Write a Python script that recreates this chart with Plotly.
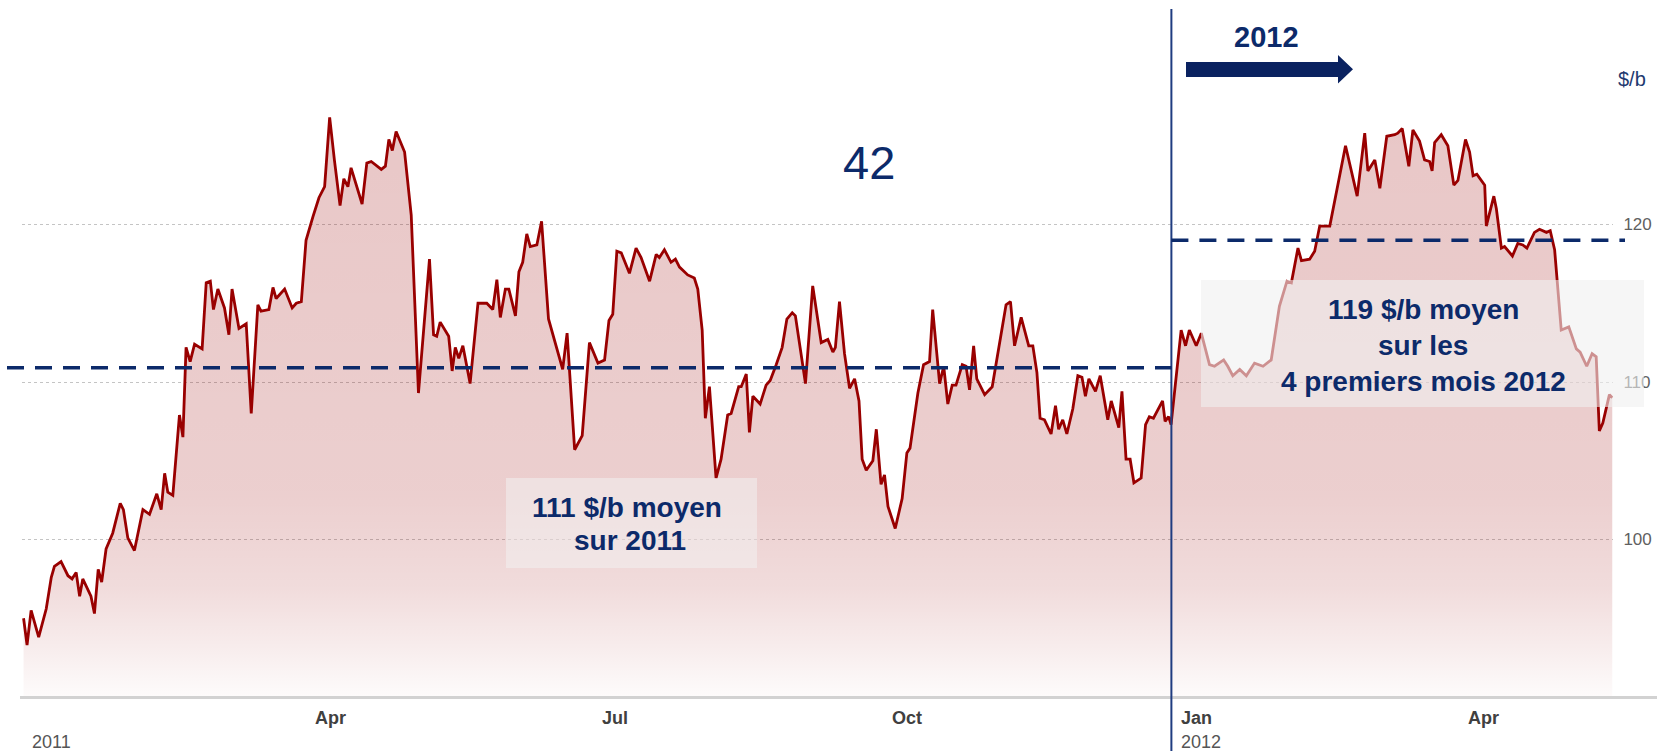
import pandas as pd
import plotly.graph_objects as go

# ---------------- data ----------------
# days elapsed since 2011-01-01 and Brent price ($/b)
days_since_2011 = [
    0.5, 1.6, 2.9, 5.3, 7.7, 9.3, 10.3, 12.4, 14.6, 15.9, 17.2, 18.3, 19.3, 20.6, 21.9, 23.0,
    24.2, 25.3, 26.7, 28.8, 31.2, 32.2, 33.6, 35.7, 38.4, 40.5, 42.8, 44.2, 45.3, 46.3, 47.9,
    50.0, 51.1, 52.1, 53.4, 54.8, 57.2, 58.5, 59.8, 60.8, 62.2, 64.3, 65.7, 66.7, 68.9, 71.2,
    72.8, 74.9, 75.9, 78.4, 79.7, 80.7, 83.4, 85.8, 87.1, 88.7, 90.2, 92.4, 94.3, 96.1, 97.7,
    99.2, 101.0, 102.2, 103.5, 104.5, 108.0, 109.5, 110.9, 114.1, 115.4, 116.5, 117.6, 118.8,
    121.5, 123.6, 125.9, 129.4, 130.7, 131.7, 132.8, 135.5, 136.6, 137.6, 138.7, 140.0, 142.3,
    144.8, 147.6, 149.5, 150.8, 151.9, 153.5, 154.6, 156.7, 157.8, 159.0, 160.3, 161.4, 163.5,
    165.0, 167.2, 171.7, 173.1, 175.5, 177.9, 180.2, 182.9, 185.0, 186.4, 187.6, 188.9, 190.3,
    192.9, 195.0, 196.6, 199.3, 201.4, 202.4, 204.0, 206.1, 207.5, 208.8, 211.4, 213.5, 214.6,
    216.0, 217.0, 218.3, 220.4, 222.0, 224.1, 225.2, 227.6, 228.4, 230.0, 231.0, 232.1, 234.4,
    236.3, 237.6, 239.5, 241.4, 242.9, 244.6, 245.6, 248.8, 251.1, 253.8, 255.9, 257.5, 258.3,
    259.6, 261.2, 262.8, 264.4, 265.8, 266.8, 268.1, 270.2, 271.3, 272.8, 273.9, 275.0, 277.3,
    279.5, 281.0, 282.0, 284.5, 286.3, 288.2, 289.2, 291.4, 292.7, 294.0, 295.4, 296.6, 298.6,
    299.8, 300.9, 302.2, 303.2, 305.7, 308.1, 310.2, 312.5, 313.9, 315.2, 317.3, 319.7, 321.0,
    322.3, 323.3, 324.7, 326.8, 328.2, 329.2, 330.5, 331.8, 333.7, 335.3, 336.6, 337.7, 338.8,
    340.9, 342.4, 344.8, 345.9, 348.3, 349.3, 350.6, 351.9, 353.1, 355.4, 356.8, 358.0, 359.3,
    362.2, 363.0, 364.1, 364.9, 368.1, 369.5, 370.7, 372.9, 374.5, 377.1, 378.7, 381.6, 382.9,
    384.5, 386.7, 388.8, 391.4, 394.1, 396.7, 399.3, 401.7, 403.1, 405.2, 406.3, 408.9, 410.5,
    412.1, 415.3, 417.6, 420.3, 424.0, 426.4, 427.4, 429.6, 431.2, 433.4, 435.9, 436.9, 438.3,
    440.4, 441.7, 443.8, 445.4, 447.0, 447.8, 448.6, 450.7, 452.8, 454.7, 456.0, 458.4, 459.7,
    460.8, 462.0, 464.5, 465.0, 467.4, 468.2, 469.8, 470.8, 473.3, 475.0, 476.6, 477.9, 480.3,
    481.9, 484.1, 485.3, 486.7, 488.8, 491.2, 493.6, 494.8, 496.9, 498.6, 499.9, 500.9, 502.0,
    504.1, 505.0,
]
brent_price = [
    95.0, 93.3, 95.5, 93.8, 95.6, 97.6, 98.3, 98.6, 97.7, 97.5, 97.9, 96.4, 97.5, 97.0, 96.4, 95.3,
    98.1, 97.3, 99.4, 100.4, 102.3, 101.9, 100.1, 99.3, 101.9, 101.6, 102.9, 101.9, 104.2, 103.0, 102.8,
    107.9, 106.5, 112.2, 111.3, 112.4, 112.1, 116.3, 116.4, 114.6, 115.9, 114.7, 113.0, 115.9, 113.4, 113.7,
    108.0, 114.9, 114.5, 114.6, 116.0, 115.3, 115.9, 114.7, 115.0, 115.1, 119.0, 120.5, 121.7, 122.4, 126.8,
    124.1, 121.2, 122.9, 122.4, 123.6, 121.3, 123.9, 124.0, 123.5, 123.7, 125.4, 124.7, 125.9,
    124.6, 120.6, 109.3, 117.8, 113.0, 112.9, 113.8, 112.9, 110.7, 112.2, 111.5, 112.3, 109.9,
    115.0, 115.0, 114.6, 116.5, 114.1, 115.9, 115.9, 114.2, 117.0, 117.6, 119.4, 118.6, 118.7,
    120.2, 114.0, 110.8, 113.1, 105.7, 106.6, 112.5, 111.2, 111.4, 113.9, 114.3, 118.3, 118.2,
    116.9, 118.5, 117.9, 116.4, 118.1, 117.9, 118.4, 117.6, 117.8, 117.3, 116.8, 116.6, 115.9,
    113.3, 107.7, 109.7, 103.9, 105.1, 107.9, 108.0, 109.7, 109.7, 110.5, 106.8, 109.1, 108.6,
    109.8, 110.1, 111.1, 112.2, 114.0, 114.4, 114.2, 109.9, 116.1, 112.5, 112.7, 111.9, 112.2,
    115.1, 111.8, 109.6, 110.2, 108.8, 105.1, 104.4, 105.0, 107.0, 103.5, 104.1, 102.1, 100.7,
    102.6, 105.5, 105.8, 109.3, 111.1, 111.3, 114.6, 109.9, 111.0, 108.6, 109.8, 109.8, 111.1,
    111.0, 109.5, 112.3, 110.2, 109.2, 109.7, 112.3, 114.9, 115.1, 112.3, 114.1, 112.3, 112.3,
    110.6, 107.7, 107.6, 106.7, 108.5, 107.0, 107.6, 106.7, 108.3, 110.4, 110.3, 109.1, 110.2,
    109.4, 110.4, 107.6, 108.8, 107.1, 109.4, 105.1, 105.1, 103.6, 103.9, 107.3, 107.8, 107.7,
    108.8, 107.5, 107.8, 107.3, 113.3, 112.3, 113.3, 112.3, 113.1, 111.1, 111.0, 111.4, 111.0,
    110.4, 110.8, 110.4, 111.2, 111.0, 111.4, 114.8, 116.4, 116.3, 118.5, 117.7, 117.8, 118.3,
    119.9, 119.9, 122.3, 125.0, 121.8, 125.8, 123.4, 124.1, 122.3, 125.6, 125.7, 125.8, 126.1,
    123.7, 126.0, 125.3, 124.1, 124.0, 123.4, 125.2, 125.7, 125.0, 122.5, 122.8, 125.4, 124.6,
    123.1, 123.2, 122.5, 119.9, 121.8, 121.0, 118.5, 118.6, 118.0, 118.8, 118.7, 118.5, 119.5,
    119.7, 119.5, 119.6, 118.4, 113.3, 113.5, 112.1, 111.9, 111.0, 111.8, 111.6, 106.9, 107.4,
    109.2, 109.0,
]
avg_2011 = 110.9
avg_2012_jan_apr = 119.0
y_tick_values = [100, 110, 120]
month_ticks = ["2011-04-01", "2011-07-01", "2011-10-01", "2012-01-01", "2012-04-01"]
month_labels = ["Apr", "Jul", "Oct", "Jan", "Apr"]
year_ticks = ["2011-01-01", "2012-01-01"]
year_labels = ["2011", "2012"]
year_split = "2012-01-01"

base = pd.Timestamp("2011-01-01")
dates = base + pd.to_timedelta(days_since_2011, unit="D")

# ---------------- layout geometry ----------------
W, H = 1657, 751
L, R, T, B = 22, 44, 0, 54
PW, PH = W - L - R, H - T - B


def px(xp):
    return (xp - L) / PW


def py(yp):
    return (H - B - yp) / PH


NAVY = "#0c2a6a"
FONT = "Arial, 'Liberation Sans', sans-serif"

fig = go.Figure()
fig.add_trace(go.Scatter(
    x=dates, y=brent_price, mode="lines",
    line=dict(color="#990000", width=2.8),
    fill="tozeroy",
    fillgradient=dict(
        type="vertical", start=90, stop=127,
        colorscale=[[0, "rgba(153,0,0,0.015)"], [0.08, "rgba(153,0,0,0.07)"],
                    [0.19, "rgba(153,0,0,0.14)"], [0.35, "rgba(153,0,0,0.19)"],
                    [1, "rgba(153,0,0,0.22)"]],
    ),
    hoverinfo="skip", showlegend=False,
))

shapes = []
# x axis baseline
shapes.append(dict(type="line", xref="paper", yref="paper", x0=px(20), x1=px(1657),
                   y0=py(697.5), y1=py(697.5), line=dict(color="#d2d2d2", width=3)))
# year split line
shapes.append(dict(type="line", xref="x", yref="paper", x0=year_split, x1=year_split,
                   y0=py(9), y1=py(751), line=dict(color="#1f3c80", width=2)))
# averages
shapes.append(dict(type="line", xref="paper", yref="y", x0=px(7), x1=px(1171.4),
                   y0=avg_2011, y1=avg_2011, line=dict(color=NAVY, width=3.5, dash="17px,11px")))
shapes.append(dict(type="line", xref="paper", yref="y", x0=px(1171.4), x1=px(1625),
                   y0=avg_2012_jan_apr, y1=avg_2012_jan_apr,
                   line=dict(color=NAVY, width=3.5, dash="17px,11px")))
# text boxes
shapes.append(dict(type="rect", xref="paper", yref="paper", x0=px(506), x1=px(757),
                   y0=py(568), y1=py(478), line=dict(width=0),
                   fillcolor="rgba(242,240,240,0.55)"))
shapes.append(dict(type="rect", xref="paper", yref="paper", x0=px(1201), x1=px(1644),
                   y0=py(407), y1=py(280), line=dict(width=0),
                   fillcolor="rgba(240,240,240,0.6)"))
# arrow
pts = [(1186, 62), (1338, 62), (1338, 55), (1353, 69.3), (1338, 83.5), (1338, 77), (1186, 77)]
path = "M " + " L ".join(f"{px(a):.5f},{py(b):.5f}" for a, b in pts) + " Z"
shapes.append(dict(type="path", xref="paper", yref="paper", path=path,
                   fillcolor="#0a2260", line=dict(width=0)))

ann = []


def text(x, y, s, size, color=NAVY, bold=False, xanchor="center", xref="paper", xshift=0):
    ann.append(dict(x=x, y=py(y), xref=xref, yref="paper", text=f"<b>{s}</b>" if bold else s,
                    showarrow=False, xanchor=xanchor, yanchor="middle", xshift=xshift,
                    font=dict(family=FONT, size=size, color=color)))


text(px(868.5), 162, "42", 47)
text(px(1266), 37, "2012", 29, bold=True)
text(px(1631.5), 79, "$/b", 20, color="#1f3a70")
text(px(627), 507, "111 $/b moyen", 28, bold=True)
text(px(630), 540, "sur 2011", 28, bold=True)
text(px(1423), 309, "119 $/b moyen", 28, bold=True)
text(px(1423), 345, "sur les", 28, bold=True)
text(px(1423), 381, "4 premiers mois 2012", 28, bold=True)
for d, lab in zip(month_ticks, month_labels):
    text(d, 718, lab, 18, color="#404040", bold=True, xanchor="left", xref="x", xshift=8)
for d, lab in zip(year_ticks, year_labels):
    text(d, 742, lab, 18, color="#555555", xanchor="left", xref="x", xshift=8)

fig.update_layout(
    width=W, height=H,
    margin=dict(l=L, r=R, t=T, b=B, pad=0),
    paper_bgcolor="white", plot_bgcolor="white",
    font=dict(family=FONT),
    showlegend=False,
    shapes=shapes, annotations=ann,
    xaxis=dict(type="date", range=[base, base + pd.Timedelta(days=PW / 3.149)],
               showgrid=False, showticklabels=False, zeroline=False, showline=False,
               ticks="", fixedrange=True),
    yaxis=dict(range=[90, 90 + PH / 15.75], side="right", tickvals=y_tick_values,
               showgrid=True, gridcolor="#c4c4c4", griddash="dot", gridwidth=1,
               zeroline=False, showline=False, ticks="outside", ticklen=6,
               tickcolor="rgba(0,0,0,0)",
               tickfont=dict(family=FONT, size=17, color="#606060"), fixedrange=True),
)

fig.write_html("out.html", include_plotlyjs=True, full_html=True,
               config={"displayModeBar": False},
               post_script="document.body.style.margin='0';document.body.style.overflow='hidden';")
